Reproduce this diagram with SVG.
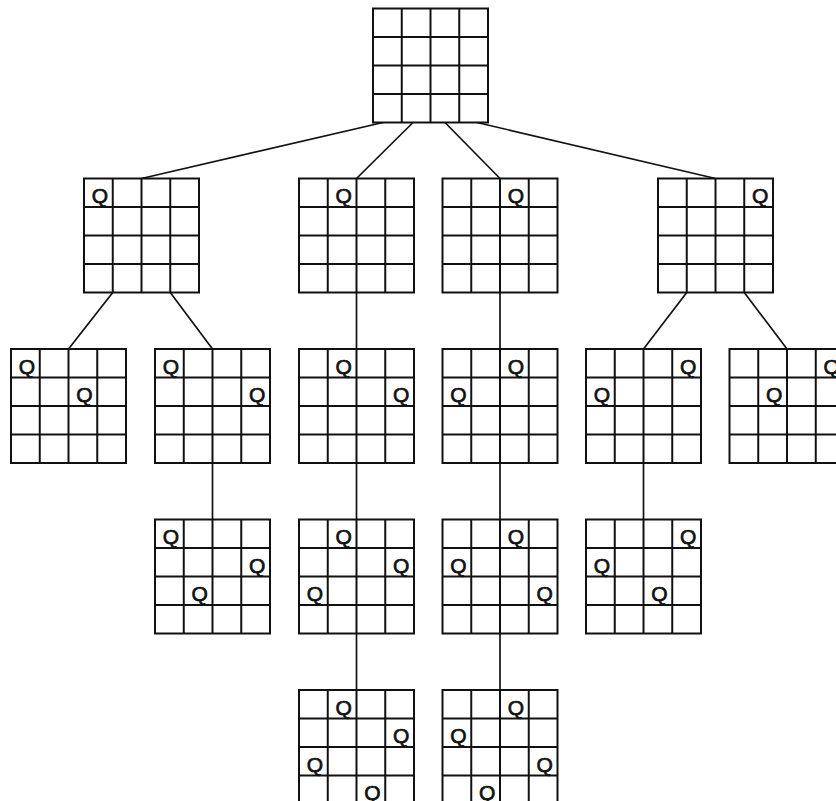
<svg xmlns="http://www.w3.org/2000/svg" xmlns:xlink="http://www.w3.org/1999/xlink" width="836" height="801" viewBox="0 0 836 801">
<style>
.grid{fill:#fff;stroke:#111;stroke-width:2}
.gl{stroke:#111;stroke-width:2}
.conn line{stroke:#111;stroke-width:1.7}
.q{font-family:"Liberation Sans",Arial,sans-serif;font-size:21px;text-anchor:middle;fill:#111;stroke:#111;stroke-width:0.7}
</style>
<defs>
<g id="board">
<rect class="grid" x="0" y="0" width="115" height="114"/>
<line class="gl" x1="28.75" y1="0" x2="28.75" y2="114"/>
<line class="gl" x1="57.5" y1="0" x2="57.5" y2="114"/>
<line class="gl" x1="86.25" y1="0" x2="86.25" y2="114"/>
<line class="gl" x1="0" y1="28.5" x2="115" y2="28.5"/>
<line class="gl" x1="0" y1="57" x2="115" y2="57"/>
<line class="gl" x1="0" y1="85.5" x2="115" y2="85.5"/>
</g>
</defs>
<rect width="836" height="801" fill="#fff"/>
<g id="connectors" class="conn">
<line x1="383" y1="122.5" x2="141.5" y2="178.5"/>
<line x1="413" y1="122.5" x2="356.5" y2="178.5"/>
<line x1="445" y1="122.5" x2="500" y2="178.5"/>
<line x1="477" y1="122.5" x2="715.5" y2="178.5"/>
<line x1="112.75" y1="292.5" x2="68.5" y2="349"/>
<line x1="170.25" y1="292.5" x2="212.5" y2="349"/>
<line x1="356.5" y1="292.5" x2="356.5" y2="349"/>
<line x1="500" y1="292.5" x2="500" y2="349"/>
<line x1="686.75" y1="292.5" x2="643.5" y2="349"/>
<line x1="744.25" y1="292.5" x2="787" y2="349"/>
<line x1="212.5" y1="463" x2="212.5" y2="519.5"/>
<line x1="356.5" y1="463" x2="356.5" y2="519.5"/>
<line x1="500" y1="463" x2="500" y2="519.5"/>
<line x1="643.5" y1="463" x2="643.5" y2="519.5"/>
<line x1="356.5" y1="633.5" x2="356.5" y2="690"/>
<line x1="500" y1="633.5" x2="500" y2="690"/>
</g>
<g id="root"><use xlink:href="#board" x="373" y="8.5"/></g>
<g id="l1a"><use xlink:href="#board" x="84" y="178.5"/><text class="q" x="100" y="203">Q</text></g>
<g id="l1b"><use xlink:href="#board" x="299" y="178.5"/><text class="q" x="343.75" y="203">Q</text></g>
<g id="l1c"><use xlink:href="#board" x="442.5" y="178.5"/><text class="q" x="516" y="203">Q</text></g>
<g id="l1d"><use xlink:href="#board" x="658" y="178.5"/><text class="q" x="760.25" y="203">Q</text></g>
<g id="l2a"><use xlink:href="#board" x="11" y="349"/><text class="q" x="27" y="373.5">Q</text><text class="q" x="84.5" y="402">Q</text></g>
<g id="l2b"><use xlink:href="#board" x="155" y="349"/><text class="q" x="171" y="373.5">Q</text><text class="q" x="257.25" y="402">Q</text></g>
<g id="l2c"><use xlink:href="#board" x="299" y="349"/><text class="q" x="343.75" y="373.5">Q</text><text class="q" x="401.25" y="402">Q</text></g>
<g id="l2d"><use xlink:href="#board" x="442.5" y="349"/><text class="q" x="516" y="373.5">Q</text><text class="q" x="458.5" y="402">Q</text></g>
<g id="l2e"><use xlink:href="#board" x="586" y="349"/><text class="q" x="688.25" y="373.5">Q</text><text class="q" x="602" y="402">Q</text></g>
<g id="l2f"><use xlink:href="#board" x="729.5" y="349"/><text class="q" x="831.75" y="373.5">Q</text><text class="q" x="774.25" y="402">Q</text></g>
<g id="l3a"><use xlink:href="#board" x="155" y="519.5"/><text class="q" x="171" y="544">Q</text><text class="q" x="257.25" y="572.5">Q</text><text class="q" x="199.75" y="601">Q</text></g>
<g id="l3b"><use xlink:href="#board" x="299" y="519.5"/><text class="q" x="343.75" y="544">Q</text><text class="q" x="401.25" y="572.5">Q</text><text class="q" x="315" y="601">Q</text></g>
<g id="l3c"><use xlink:href="#board" x="442.5" y="519.5"/><text class="q" x="516" y="544">Q</text><text class="q" x="458.5" y="572.5">Q</text><text class="q" x="544.75" y="601">Q</text></g>
<g id="l3d"><use xlink:href="#board" x="586" y="519.5"/><text class="q" x="688.25" y="544">Q</text><text class="q" x="602" y="572.5">Q</text><text class="q" x="659.5" y="601">Q</text></g>
<g id="l4a"><use xlink:href="#board" x="299" y="690"/><text class="q" x="343.75" y="714.5">Q</text><text class="q" x="401.25" y="743">Q</text><text class="q" x="315" y="771.5">Q</text><text class="q" x="372.5" y="800">Q</text></g>
<g id="l4b"><use xlink:href="#board" x="442.5" y="690"/><text class="q" x="516" y="714.5">Q</text><text class="q" x="458.5" y="743">Q</text><text class="q" x="544.75" y="771.5">Q</text><text class="q" x="487.25" y="800">Q</text></g>
</svg>
